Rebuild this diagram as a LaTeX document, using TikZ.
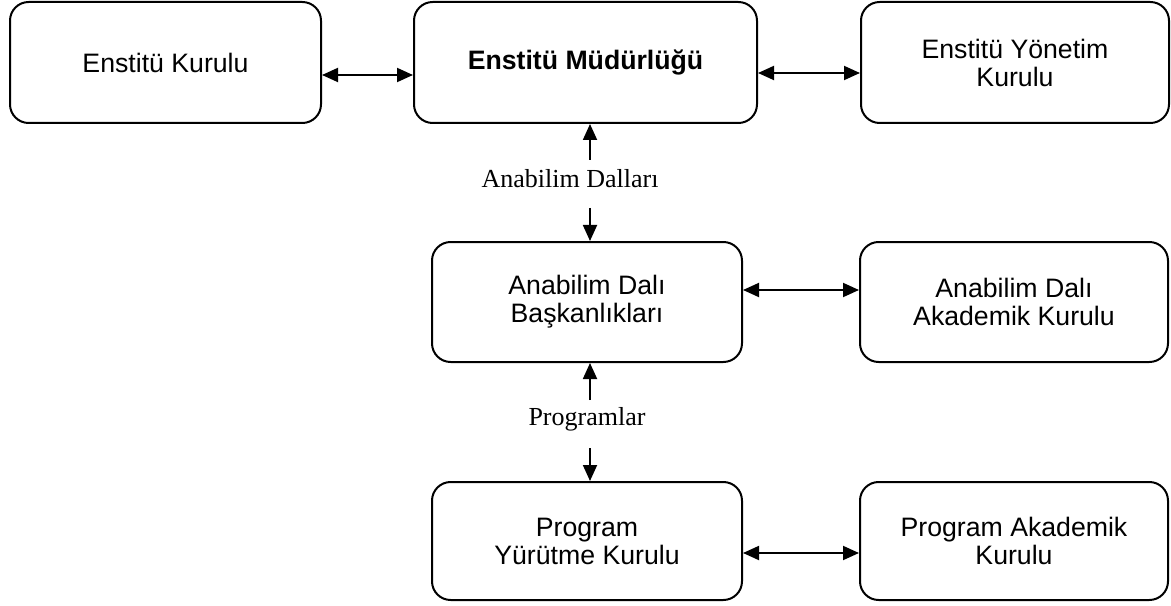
\documentclass[tikz,border=0pt]{standalone}
\usepackage{fontspec}
\setmainfont{Liberation Serif}
\newfontfamily\arialf{Liberation Sans}
\usetikzlibrary{arrows.meta}
\tikzset{
  box/.style={draw=black, line width=1.5pt, rounded corners=14pt, inner sep=0pt,
    align=center, font=\arialf\fontsize{20}{21}\selectfont},
  conn/.style={line width=1.4pt, {Triangle[length=12pt,width=10.5pt]}-{Triangle[length=12pt,width=10.5pt]}},
  onearrow/.style={line width=1.4pt, -{Triangle[length=12pt,width=10.5pt]}},
  lbl/.style={inner sep=0pt, font=\fontsize{19.5}{22}\selectfont}
}
\begin{document}
\begin{tikzpicture}[x=0.75pt,y=-0.75pt]
\useasboundingbox (0,0) rectangle (1171,606);
% top row
\node[box, minimum width=311*0.75pt, minimum height=121*0.75pt] (b1) at (165.5,62.5) {Enstitü Kurulu};
\node[box, minimum width=343*0.75pt, minimum height=121*0.75pt] (b2) at (585.5,62.5) {\bfseries Enstitü Müdürlüğü};
\node[box, minimum width=308*0.75pt, minimum height=121*0.75pt] (b3) at (1015,62.5) {Enstitü Yönetim\\Kurulu};
% middle row
\node[box, minimum width=310*0.75pt, minimum height=120*0.75pt] (b4) at (587,302) {Anabilim Dalı\\Başkanlıkları};
\node[box, minimum width=308*0.75pt, minimum height=120*0.75pt] (b5) at (1014,302) {Anabilim Dalı\\Akademik Kurulu};
% bottom row
\node[box, minimum width=310*0.75pt, minimum height=118*0.75pt] (b6) at (587,541) {Program\\Yürütme Kurulu};
\node[box, minimum width=308*0.75pt, minimum height=118*0.75pt] (b7) at (1014,541) {Program Akademik\\Kurulu};
% labels
\node[lbl] (l1) at (570,179) {Anabilim Dalları};
\node[lbl] (l2) at (587,419) {Programlar};
% horizontal connectors
\coordinate (h1) at (0,75);
\coordinate (h2) at (0,73);
\coordinate (h3) at (0,290);
\coordinate (h4) at (0,553);
\draw[conn] (b1.east |- h1) -- (b2.west |- h1);
\draw[conn] (b2.east |- h2) -- (b3.west |- h2);
\draw[conn] (b4.east |- h3) -- (b5.west |- h3);
\draw[conn] (b6.east |- h4) -- (b7.west |- h4);
% vertical connectors
\coordinate (v1) at (590,160);
\coordinate (v2) at (590,208);
\coordinate (v3) at (590,400);
\coordinate (v4) at (590,448);
\draw[onearrow] (v1) -- (v1 |- b2.south);
\draw[onearrow] (v2) -- (v2 |- b4.north);
\draw[onearrow] (v3) -- (v3 |- b4.south);
\draw[onearrow] (v4) -- (v4 |- b6.north);
\end{tikzpicture}
\end{document}
